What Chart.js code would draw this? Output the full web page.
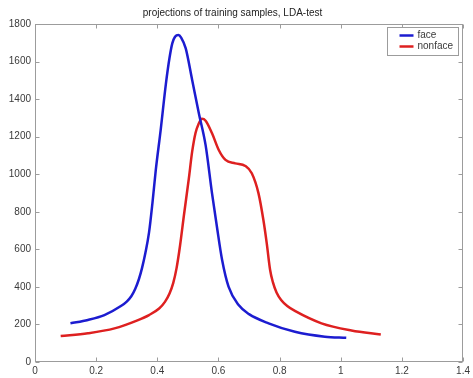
<!DOCTYPE html>
<html>
<head>
<meta charset="utf-8">
<script src="https://cdn.jsdelivr.net/npm/chart.js@4/dist/chart.umd.min.js"></script>
<style>
  html, body { margin: 0; padding: 0; background: #fff; }
  #wrap { width: 473px; height: 378px; }
</style>
</head>
<body>
<div id="wrap"><canvas id="c" width="473" height="378"></canvas></div>
<script>
// Projection density of the "face" class
const faceX = [0.116, 0.173, 0.227, 0.281, 0.300, 0.315, 0.328, 0.340, 0.350, 0.361, 0.373, 0.384, 0.395, 0.411, 0.428, 0.440, 0.449, 0.458, 0.469, 0.478, 0.493, 0.514, 0.536, 0.558, 0.579, 0.595, 0.612, 0.633, 0.666, 0.700, 0.764, 0.850, 0.948, 1.018];
const faceY = [206, 224, 250, 298, 322, 350, 390, 442, 500, 580, 690, 845, 1022, 1235, 1480, 1620, 1697, 1732, 1742, 1728, 1670, 1502, 1324, 1155, 898, 720, 543, 401, 303, 255, 206, 161, 135, 129];

// Projection density of the "nonface" class
const nonfaceX = [0.084, 0.173, 0.260, 0.335, 0.373, 0.406, 0.425, 0.440, 0.452, 0.463, 0.474, 0.487, 0.503, 0.514, 0.525, 0.535, 0.546, 0.558, 0.579, 0.601, 0.623, 0.655, 0.688, 0.709, 0.731, 0.747, 0.758, 0.769, 0.778, 0.790, 0.805, 0.825, 0.850, 0.937, 1.035, 1.131];
const nonfaceY = [138, 153, 179, 222, 250, 285, 320, 365, 420, 500, 615, 780, 975, 1120, 1220, 1268, 1295, 1285, 1218, 1129, 1076, 1058, 1044, 1005, 898, 756, 632, 490, 425, 370, 330, 298, 272, 206, 168, 146];

const xTicks = [0, 0.2, 0.4, 0.6, 0.8, 1, 1.2, 1.4];
const xTickLabels = ['0', '0.2', '0.4', '0.6', '0.8', '1', '1.2', '1.4'];
const yTicks = [0, 200, 400, 600, 800, 1000, 1200, 1400, 1600, 1800];
const yTickLabels = ['0', '200', '400', '600', '800', '1000', '1200', '1400', '1600', '1800'];

const FONT = "'Liberation Sans', Arial, sans-serif";
const FRAME = '#9c9c9c';
const TEXT = '#3a3a3a';

const toPoints = (xs, ys) => xs.map((x, i) => ({ x: x, y: ys[i] }));

// Box around the axes with inward-pointing ticks on all four sides
const framePlugin = {
  id: 'frame',
  afterDatasetsDraw(chart) {
    const { ctx, chartArea: a, scales: { x, y } } = chart;
    const L = Math.round(a.left) + 0.5, R = Math.round(a.right) - 0.5;
    const T = Math.round(a.top) + 0.5, B = Math.round(a.bottom) - 0.5;
    const len = 4;
    ctx.save();
    ctx.strokeStyle = FRAME;
    ctx.lineWidth = 1;
    ctx.strokeRect(L, T, R - L, B - T);
    ctx.beginPath();
    xTicks.forEach(v => {
      const px = Math.round(x.getPixelForValue(v)) + 0.5;
      ctx.moveTo(px, B); ctx.lineTo(px, B - len);
      ctx.moveTo(px, T); ctx.lineTo(px, T + len);
    });
    yTicks.forEach(v => {
      const py = Math.round(y.getPixelForValue(v)) + 0.5;
      ctx.moveTo(L, py); ctx.lineTo(L + len, py);
      ctx.moveTo(R, py); ctx.lineTo(R - len, py);
    });
    ctx.stroke();
    ctx.restore();
  }
};

// Boxed legend in the upper-right corner of the axes
const boxLegendPlugin = {
  id: 'boxLegend',
  afterDraw(chart) {
    const { ctx, chartArea: a } = chart;
    const bx = Math.round(a.right) - 75.5, by = Math.round(a.top) + 3.5;
    const bw = 71, bh = 28;
    ctx.save();
    ctx.fillStyle = '#fff';
    ctx.fillRect(bx, by, bw, bh);
    ctx.strokeStyle = FRAME;
    ctx.lineWidth = 1;
    ctx.strokeRect(bx, by, bw, bh);
    ctx.font = '10px ' + FONT;
    ctx.textBaseline = 'middle';
    chart.data.datasets.forEach((ds, i) => {
      const ly = by + 8 + i * 11;
      ctx.strokeStyle = ds.borderColor;
      ctx.lineWidth = 2.5;
      ctx.beginPath();
      ctx.moveTo(bx + 12, ly);
      ctx.lineTo(bx + 26, ly);
      ctx.stroke();
      ctx.fillStyle = TEXT;
      ctx.fillText(ds.label, bx + 30, ly);
    });
    ctx.restore();
  }
};

new Chart(document.getElementById('c'), {
  type: 'line',
  data: {
    datasets: [
      {
        label: 'face',
        data: toPoints(faceX, faceY),
        borderColor: '#1c1cd0',
        borderWidth: 2.5,
        pointRadius: 0,
        fill: false,
        cubicInterpolationMode: 'monotone'
      },
      {
        label: 'nonface',
        data: toPoints(nonfaceX, nonfaceY),
        borderColor: '#de2020',
        borderWidth: 2.5,
        pointRadius: 0,
        fill: false,
        cubicInterpolationMode: 'monotone'
      }
    ]
  },
  options: {
    responsive: false,
    animation: false,
    devicePixelRatio: 1,
    layout: { padding: { left: 0, right: 8, top: 0, bottom: 0 } },
    plugins: {
      legend: { display: false },
      tooltip: { enabled: false },
      title: {
        display: true,
        text: 'projections of training samples, LDA-test',
        color: '#222',
        font: { family: FONT, size: 10, weight: 'normal' },
        padding: { top: 7, bottom: 5 }
      }
    },
    scales: {
      x: {
        type: 'linear',
        min: 0,
        max: 1.4,
        afterBuildTicks: s => { s.ticks = xTicks.map(v => ({ value: v })); },
        afterFit: s => { s.height = 16; },
        grid: { display: false, drawTicks: false },
        border: { display: false },
        ticks: {
          padding: 3,
          color: TEXT,
          font: { family: FONT, size: 10 },
          maxRotation: 0,
          callback: (v, i) => xTickLabels[i]
        }
      },
      y: {
        type: 'linear',
        min: 0,
        max: 1800,
        afterBuildTicks: s => { s.ticks = yTicks.map(v => ({ value: v })); },
        afterFit: s => { s.width = 35; },
        grid: { display: false, drawTicks: false },
        border: { display: false },
        ticks: {
          padding: 4,
          color: TEXT,
          font: { family: FONT, size: 10 },
          callback: (v, i) => yTickLabels[i]
        }
      }
    }
  },
  plugins: [framePlugin, boxLegendPlugin]
});
</script>
</body>
</html>
